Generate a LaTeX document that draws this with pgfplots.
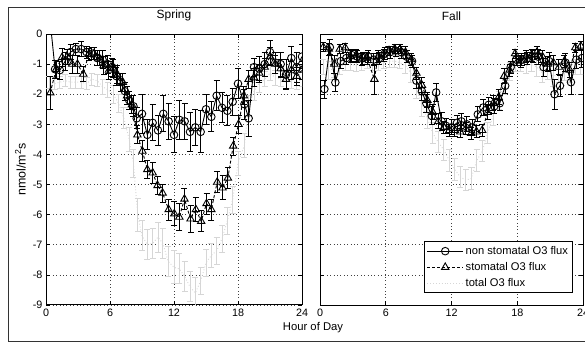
\documentclass[border=0pt]{standalone}
\usepackage{pgfplots}
\pgfplotsset{compat=1.18}
\usepackage{fontspec}
\setmainfont{Liberation Sans}
\definecolor{lgray}{gray}{0.84}
\pgfplotsset{
 myax/.style={
  scale only axis, height=271bp,
  xmin=0,xmax=24,ymin=-9,ymax=0,
  xtick={0,6,12,18,24}, xticklabels={0,6,12,18,24},
  ytick={-9,-8,-7,-6,-5,-4,-3,-2,-1,0},
  tick align=inside, major tick length=4bp,
  tick style={black, line width=0.6bp},
  grid=major, major grid style={black!75, dash pattern=on 0.8bp off 2.6bp, line width=0.6bp},
  axis line style={line width=1bp},
  tick label style={font=\fontsize{10.8}{13}\selectfont},
  clip marker paths=true,
  every axis plot/.append style={line width=0.9bp},
  legend image code/.code={\draw[mark repeat=2,mark phase=2,##1] plot coordinates {(0bp,0bp) (18bp,0bp) (36bp,0bp)};},
 },
 circ/.style={black, solid, mark=o, mark size=3.8bp, mark options={solid, line width=0.9bp}},
 tri/.style={black, dash pattern=on 3bp off 2bp, mark=triangle, mark size=4.3bp, mark options={solid, line width=0.9bp}},
 tot/.style={lgray, dotted, mark=none},
 ebk/.style={error bars/.cd, y dir=both, y explicit, error bar style={black, solid, line width=0.9bp}, error mark options={black, solid, line width=0.9bp, mark size=3bp, rotate=90}},
 egr/.style={error bars/.cd, y dir=both, y explicit, error bar style={lgray, solid, line width=1bp}, error mark options={lgray, solid, line width=1bp, mark size=3bp, rotate=90}},
}
\begin{document}
\begin{tikzpicture}
\useasboundingbox (0,0) rectangle (585bp,343bp);
\draw[line width=0.9bp, black!80] (8.5bp,1.5bp) rectangle (600bp,336bp);
\begin{axis}[myax, width=256bp, at={(46bp,38bp)}, anchor=south west,
  yticklabels={-9,-8,-7,-6,-5,-4,-3,-2,-1,0},
  title={Spring}, title style={at={(axis description cs:0.5,1.045)}, anchor=center, font=\fontsize{12}{14}\selectfont},
  ylabel={nmol/m\textsuperscript{2}s}, ylabel style={at={(axis description cs:-0.1,0.5)}, anchor=center, rotate=0, font=\fontsize{12.5}{14}\selectfont},
  xlabel={Hour of Day}, xlabel style={at={(axis description cs:1.043,-0.085)}, anchor=center, font=\fontsize{11.3}{13}\selectfont},
]
\addplot+[tot, egr] table[x=x,y=y,y error=e] {
x y e
0.3 -1.6 0.2
0.8 -1.65 0.2
1.3 -1.6 0.2
1.8 -1.55 0.2
2.3 -1.6 0.2
2.8 -1.6 0.2
3.3 -1.6 0.2
3.8 -1.65 0.2
4.3 -1.5 0.2
4.8 -1.55 0.2
5.3 -1.75 0.25
5.8 -1.85 0.25
6.3 -2.0 0.3
6.8 -2.3 0.3
7.3 -2.8 0.35
7.8 -3.5 0.4
8.2 -4.3 0.45
8.6 -6.0 0.55
9.0 -6.7 0.5
9.5 -7.0 0.5
10.0 -6.95 0.5
10.5 -6.75 0.5
10.95 -6.95 0.5
11.45 -7.55 0.5
12.0 -7.75 0.55
12.5 -7.8 0.5
13.0 -8.05 0.5
13.5 -8.4 0.5
14.0 -8.6 0.5
14.5 -8.2 0.45
15.0 -7.6 0.45
15.5 -7.35 0.4
16.0 -7.2 0.45
16.5 -6.8 0.45
17.0 -6.2 0.45
17.5 -5.5 0.45
18.0 -4.3 0.4
18.6 -3.7 0.4
19.0 -2.4 0.35
19.5 -1.9 0.3
20.0 -1.65 0.3
20.5 -1.5 0.25
21.0 -1.3 0.25
21.5 -1.45 0.25
22.0 -1.5 0.25
22.5 -1.6 0.25
23.0 -1.55 0.25
23.5 -1.6 0.25
24.0 -1.5 0.25
};
\addplot+[tri, ebk] table[x=x,y=y,y error=e] {
x y e
0.4 -1.95 0.55
0.95 -1.17 0.3
1.5 -0.78 0.3
2.0 -0.75 0.25
2.45 -1.0 0.3
2.95 -1.0 0.3
3.5 -1.33 0.25
4.0 -0.67 0.2
4.5 -0.65 0.2
5.0 -0.8 0.25
5.4 -1.05 0.3
5.9 -1.2 0.3
6.3 -1.15 0.3
6.7 -1.35 0.3
7.2 -1.6 0.3
7.6 -2.05 0.3
8.05 -2.35 0.3
8.57 -3.35 0.3
9.04 -3.89 0.35
9.5 -4.5 0.3
10.0 -4.61 0.35
10.46 -5.03 0.3
10.93 -5.28 0.3
11.5 -5.83 0.35
12.03 -5.97 0.4
12.5 -6.08 0.45
12.98 -5.48 0.35
13.55 -6.14 0.45
14.05 -5.83 0.4
14.55 -6.22 0.35
15.05 -5.63 0.35
15.5 -5.83 0.35
16.05 -4.92 0.35
16.55 -5.11 0.4
17.05 -4.78 0.35
17.55 -3.72 0.3
18.05 -3.0 0.3
18.55 -2.05 0.3
19.0 -1.5 0.3
19.5 -1.45 0.3
20.0 -1.3 0.3
20.5 -1.1 0.3
21.0 -0.75 0.3
21.5 -1.0 0.3
22.0 -1.15 0.3
22.5 -1.5 0.3
23.0 -1.2 0.3
23.5 -1.4 0.3
24.0 -1.2 0.3
};
\addplot+[circ, ebk] table[x=x,y=y,y error=e] {
x y e
0.4 0.4 0.3
0.85 -1.17 0.3
1.3 -1.2 0.3
1.8 -0.9 0.3
2.3 -0.6 0.25
2.8 -0.5 0.2
3.3 -0.5 0.25
3.8 -0.6 0.2
4.3 -0.65 0.2
4.8 -0.8 0.25
5.3 -0.85 0.3
5.8 -1.0 0.3
6.2 -1.1 0.3
6.6 -1.4 0.3
7.0 -1.6 0.3
7.4 -1.9 0.3
7.8 -2.2 0.3
8.2 -2.4 0.35
8.5 -2.8 0.35
9.0 -2.65 0.65
9.5 -3.35 0.5
10.0 -2.95 0.6
10.5 -3.2 0.5
11.0 -2.65 0.6
11.5 -2.9 0.6
12.0 -3.35 0.6
12.5 -2.85 0.65
13.0 -2.9 0.6
13.5 -3.25 0.65
14.0 -3.1 0.6
14.5 -3.25 0.7
15.0 -2.5 0.5
15.5 -2.75 0.5
16.0 -2.05 0.5
16.5 -2.45 0.5
17.0 -2.55 0.5
17.5 -2.25 0.45
18.0 -1.65 0.5
18.6 -2.33 0.5
19.0 -2.8 0.6
19.5 -1.1 0.3
20.0 -1.15 0.4
20.5 -1.0 0.4
21.0 -0.6 0.4
21.5 -0.95 0.35
22.0 -1.0 0.4
22.5 -1.35 0.5
23.0 -0.8 0.4
23.5 -1.1 0.5
24.0 -0.75 0.4
};
\end{axis}
\begin{axis}[myax, width=263bp, at={(320bp,38bp)}, anchor=south west,
  yticklabels={},
  title={Fall}, title style={at={(axis description cs:0.5,1.045)}, anchor=center, font=\fontsize{12}{14}\selectfont},
  reverse legend,
  legend style={at={(axis description cs:0.962,0.044)}, anchor=south east, draw=black, line width=1bp, fill=white, font=\fontsize{11.2}{13}\selectfont, legend cell align=left, row sep=2.5bp, inner sep=2.5bp},
]
\addplot+[tot, egr] table[x=x,y=y,y error=e] {
x y e
0.3 -1.1 0.25
0.8 -1.2 0.3
1.3 -1.15 0.3
1.8 -1.1 0.25
2.3 -1.0 0.2
2.8 -1.0 0.2
3.3 -1.05 0.2
3.8 -1.0 0.2
4.3 -0.95 0.2
4.8 -1.0 0.2
5.3 -1.0 0.2
5.8 -0.95 0.2
6.3 -0.9 0.2
6.8 -0.9 0.2
7.3 -0.95 0.2
7.8 -1.05 0.25
8.3 -1.3 0.3
8.8 -1.8 0.35
9.3 -2.4 0.35
9.8 -2.8 0.35
10.3 -3.3 0.35
10.8 -3.6 0.35
11.3 -3.85 0.35
11.8 -4.2 0.35
12.3 -4.5 0.35
12.8 -4.75 0.35
13.3 -4.85 0.35
13.8 -4.8 0.35
14.3 -4.2 0.35
14.8 -3.9 0.35
15.3 -3.3 0.35
15.8 -2.7 0.35
16.3 -2.2 0.3
16.8 -1.7 0.3
17.3 -1.25 0.3
17.8 -1.0 0.25
18.3 -1.0 0.25
18.8 -1.05 0.25
19.3 -1.0 0.25
19.8 -1.1 0.3
20.3 -1.3 0.3
20.8 -1.2 0.3
21.3 -1.4 0.35
21.8 -1.3 0.3
22.3 -1.25 0.3
22.8 -1.3 0.3
23.3 -1.1 0.25
23.8 -1.1 0.25
};
\addlegendentry{total O3 flux}
\addplot+[tri, ebk] table[x=x,y=y,y error=e] {
x y e
0.3 -0.44 0.15
0.8 -0.5 0.2
1.3 -1.0 0.3
1.8 -0.5 0.15
2.3 -0.45 0.15
2.8 -0.75 0.2
3.3 -0.7 0.2
3.8 -0.85 0.2
4.3 -0.8 0.2
4.96 -1.5 0.5
5.3 -0.75 0.2
5.8 -0.7 0.2
6.3 -0.55 0.15
6.8 -0.5 0.15
7.3 -0.5 0.15
7.8 -0.6 0.2
8.3 -0.85 0.2
8.8 -1.3 0.2
9.3 -1.7 0.25
9.8 -2.2 0.25
10.3 -2.6 0.25
10.8 -2.9 0.25
11.3 -3.1 0.2
11.8 -3.2 0.2
12.3 -3.2 0.2
12.8 -3.25 0.2
13.3 -3.15 0.2
13.8 -3.3 0.2
14.3 -3.25 0.2
14.8 -3.2 0.2
15.3 -2.6 0.25
15.8 -2.3 0.25
16.3 -2.1 0.25
16.8 -1.4 0.25
17.3 -1.2 0.2
17.8 -0.65 0.15
18.3 -0.9 0.2
18.8 -0.75 0.2
19.3 -0.7 0.2
19.8 -0.6 0.2
20.3 -0.75 0.2
20.8 -1.0 0.25
21.3 -0.95 0.25
21.8 -1.1 0.25
22.3 -0.9 0.2
22.8 -1.2 0.25
23.3 -0.45 0.15
23.8 -0.4 0.15
};
\addlegendentry{stomatal O3 flux}
\addplot+[circ, ebk] table[x=x,y=y,y error=e] {
x y e
0.4 -1.83 0.3
0.9 -0.44 0.25
1.4 -1.61 0.3
1.9 -0.9 0.25
2.4 -0.8 0.2
2.9 -0.7 0.2
3.4 -0.75 0.2
3.9 -0.8 0.2
4.4 -0.75 0.2
4.9 -0.85 0.2
5.4 -0.8 0.2
5.9 -0.65 0.2
6.4 -0.6 0.2
6.9 -0.55 0.2
7.4 -0.6 0.2
7.9 -0.75 0.2
8.4 -0.9 0.2
8.8 -1.55 0.25
9.3 -1.9 0.3
9.7 -2.3 0.3
10.2 -2.72 0.3
10.6 -1.94 0.3
11.1 -2.9 0.3
11.5 -3.05 0.25
12.0 -3.1 0.25
12.5 -2.95 0.25
12.9 -2.9 0.25
13.4 -3.0 0.25
13.9 -3.1 0.25
14.4 -2.67 0.25
14.9 -2.44 0.25
15.4 -2.35 0.25
15.9 -2.4 0.25
16.4 -2.3 0.25
16.9 -1.72 0.25
17.4 -1.1 0.2
17.9 -0.85 0.2
18.4 -0.85 0.2
18.9 -0.8 0.2
19.4 -0.75 0.2
19.9 -0.75 0.25
20.4 -1.1 0.3
20.9 -0.9 0.3
21.4 -2.0 0.5
21.9 -1.72 0.35
22.4 -0.95 0.3
22.9 -1.6 0.4
23.4 -0.85 0.3
23.9 -0.8 0.3
};
\addlegendentry{non stomatal O3 flux}
\end{axis}
\end{tikzpicture}
\end{document}
